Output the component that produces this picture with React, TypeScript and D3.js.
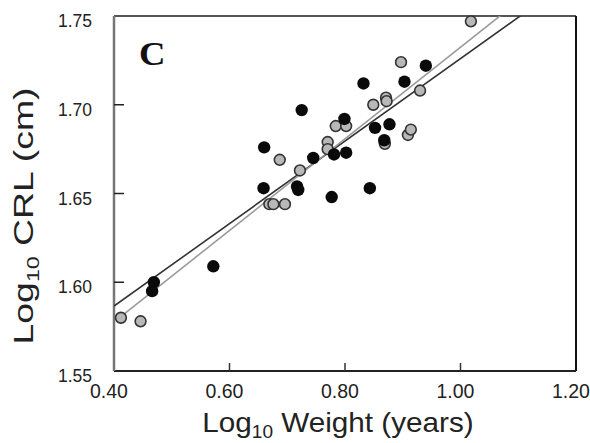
import React, { useEffect, useRef } from 'react'
import * as d3 from 'd3'

// group 1 (filled black) and group 2 (grey) - log10 weight vs log10 CRL
const blackX = [0.469, 0.466, 0.572, 0.659, 0.660, 0.717, 0.719, 0.725, 0.745, 0.777, 0.781, 0.799, 0.802, 0.832, 0.843, 0.852, 0.877, 0.868, 0.903, 0.940]
const blackY = [1.600, 1.595, 1.609, 1.653, 1.676, 1.654, 1.652, 1.697, 1.670, 1.648, 1.672, 1.692, 1.673, 1.712, 1.653, 1.687, 1.689, 1.680, 1.713, 1.722]
const greyX = [0.412, 0.446, 0.669, 0.676, 0.696, 0.687, 0.722, 0.770, 0.770, 0.784, 0.802, 0.849, 0.871, 0.872, 0.869, 0.909, 0.914, 0.930, 0.897, 1.018]
const greyY = [1.580, 1.578, 1.644, 1.644, 1.644, 1.669, 1.663, 1.679, 1.675, 1.688, 1.688, 1.700, 1.704, 1.702, 1.678, 1.683, 1.686, 1.708, 1.724, 1.747]

// regression lines [black, grey]
const fitSlope = [0.2324, 0.258]
const fitIntercept = [1.4936, 1.4744]
const fitStart = [0.4, 0.414]
const fitColor = ['#333', '#9a9a9a']

const xTicks = [0.4, 0.6, 0.8, 1.0, 1.2]
const yTicks = [1.55, 1.6, 1.65, 1.7, 1.75]

export default function App() {
  const ref = useRef(null)

  useEffect(() => {
    const width = 590
    const height = 443
    const left = 114
    const right = 576
    const top = 16
    const bottom = 371

    const svg = d3.select(ref.current)
    svg.selectAll('*').remove()
    svg.attr('width', width).attr('height', height)

    const x = d3.scaleLinear().domain([0.4, 1.2]).range([left, right])
    const y = d3.scaleLinear().domain([1.55, 1.75]).range([bottom, top])

    svg.append('rect').attr('width', width).attr('height', height).attr('fill', '#fff')

    svg
      .append('defs')
      .append('clipPath')
      .attr('id', 'plotclip')
      .append('rect')
      .attr('x', left)
      .attr('y', top)
      .attr('width', right - left)
      .attr('height', bottom - top)

    // frame
    svg.append('line').attr('x1', left).attr('x2', right).attr('y1', top).attr('y2', top)
      .attr('stroke', '#555').attr('stroke-width', 2)
    svg.append('line').attr('x1', right).attr('x2', right).attr('y1', top).attr('y2', bottom)
      .attr('stroke', '#111').attr('stroke-width', 2)
    svg.append('line').attr('x1', left).attr('x2', right).attr('y1', bottom).attr('y2', bottom)
      .attr('stroke', '#222').attr('stroke-width', 2)
    svg.append('line').attr('x1', left).attr('x2', left).attr('y1', top).attr('y2', bottom)
      .attr('stroke', '#777').attr('stroke-width', 2.5)

    // ticks (inward)
    svg.append('g').selectAll('line').data(xTicks.slice(1, -1)).join('line')
      .attr('x1', (d) => x(d)).attr('x2', (d) => x(d))
      .attr('y1', bottom).attr('y2', bottom - 8)
      .attr('stroke', '#333').attr('stroke-width', 1.5)
    svg.append('g').selectAll('line').data(yTicks.slice(1, -1)).join('line')
      .attr('x1', left).attr('x2', left + 10)
      .attr('y1', (d) => y(d)).attr('y2', (d) => y(d))
      .attr('stroke', '#222').attr('stroke-width', 1.5)

    // tick labels
    svg.append('g').selectAll('text').data(xTicks).join('text')
      .attr('x', (d) => x(d) - 5).attr('y', 398)
      .attr('text-anchor', 'middle')
      .attr('font-family', 'Liberation Sans, Arial, sans-serif')
      .attr('font-size', 19.5)
      .attr('fill', '#222')
      .text((d) => d.toFixed(2))
    svg.append('g').selectAll('text').data(yTicks).join('text')
      .attr('x', 92).attr('y', (d) => y(d) + 11)
      .attr('text-anchor', 'end')
      .attr('font-family', 'Liberation Sans, Arial, sans-serif')
      .attr('font-size', 17.5)
      .attr('fill', '#222')
      .text((d) => d.toFixed(2))

    // regression lines
    const lines = svg.append('g').attr('clip-path', 'url(#plotclip)')
    fitSlope.forEach((m, i) => {
      const x0 = fitStart[i]
      const x1 = 1.2
      lines.append('line')
        .attr('x1', x(x0)).attr('y1', y(fitIntercept[i] + m * x0))
        .attr('x2', x(x1)).attr('y2', y(fitIntercept[i] + m * x1))
        .attr('stroke', fitColor[i]).attr('stroke-width', 1.6)
    })

    // points
    svg.append('g').selectAll('circle').data(greyX).join('circle')
      .attr('cx', (d) => x(d)).attr('cy', (d, i) => y(greyY[i]))
      .attr('r', 5.4)
      .attr('fill', '#b8b8b8').attr('stroke', '#333').attr('stroke-width', 1.6)
    svg.append('g').selectAll('circle').data(blackX).join('circle')
      .attr('cx', (d) => x(d)).attr('cy', (d, i) => y(blackY[i]))
      .attr('r', 6.2)
      .attr('fill', '#0a0a0a')

    // panel letter
    svg.append('text')
      .attr('transform', 'translate(139,65) scale(1.08,1)')
      .attr('font-family', 'Liberation Serif, Times New Roman, serif')
      .attr('font-weight', 'bold')
      .attr('font-size', 34)
      .attr('fill', '#111')
      .text('C')

    // axis titles
    const xt = svg.append('text')
      .attr('transform', 'translate(338,432) scale(1.06,1)')
      .attr('text-anchor', 'middle')
      .attr('font-family', 'Liberation Sans, Arial, sans-serif')
      .attr('font-size', 28)
      .attr('fill', '#222')
    xt.append('tspan').text('Log')
    xt.append('tspan').attr('font-size', 18).attr('dy', 6).text('10')
    xt.append('tspan').attr('dy', -6).text(' Weight (years)')

    const yt = svg.append('text')
      .attr('transform', 'translate(33,216) rotate(-90) scale(1.36,1)')
      .attr('text-anchor', 'middle')
      .attr('font-family', 'Liberation Sans, Arial, sans-serif')
      .attr('font-size', 27.5)
      .attr('fill', '#222')
    yt.append('tspan').text('Log')
    yt.append('tspan').attr('font-size', 17).attr('dy', 6).text('10')
    yt.append('tspan').attr('dy', -6).text(' CRL (cm)')
  }, [])

  return <svg ref={ref} style={{ position: 'absolute', left: 0, top: 0 }}></svg>
}
